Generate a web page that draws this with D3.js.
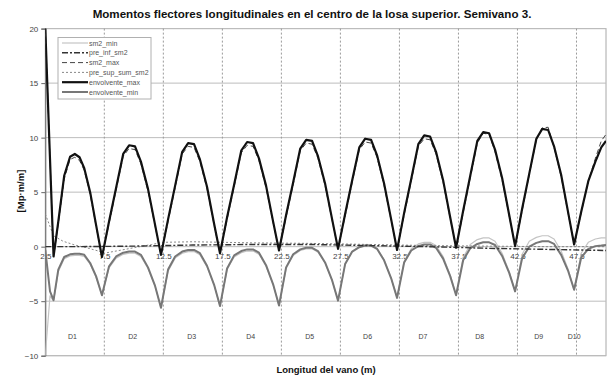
<!DOCTYPE html>
<html>
<head>
<meta charset="utf-8">
<script src="https://cdn.jsdelivr.net/npm/d3@7"></script>
<style>
  body { margin: 0; background: #fff; }
  text { font-family: "Liberation Sans", Arial, sans-serif; }
</style>
</head>
<body>
<script>
// Chart values
const xPts = [2.5, 2.9, 3.2, 3.6, 4.1, 4.6, 5.0, 5.4, 5.8, 6.3, 6.8,
  7.3, 7.9, 8.5, 9.1, 9.6, 10.1, 10.6, 11.2, 11.8,
  12.3, 12.9, 13.5, 14.1, 14.6, 15.1, 15.6, 16.2, 16.8,
  17.3, 17.9, 18.5, 19.1, 19.6, 20.1, 20.6, 21.2, 21.8,
  22.3, 22.9, 23.5, 24.1, 24.6, 25.1, 25.6, 26.2, 26.8,
  27.3, 27.9, 28.5, 29.1, 29.6, 30.1, 30.6, 31.2, 31.8,
  32.3, 32.9, 33.5, 34.1, 34.6, 35.1, 35.6, 36.2, 36.8,
  37.3, 37.9, 38.5, 39.1, 39.6, 40.1, 40.6, 41.2, 41.8,
  42.3, 42.9, 43.5, 44.1, 44.6, 45.1, 45.6, 46.2, 46.8,
  47.3, 47.9, 48.5, 49.1, 49.6, 50.0];

const envolventeMax = [20, 8.0, -0.9, 2.3, 6.5, 8.25, 8.5, 8.2, 7.2, 5.0, 2.0,
  -0.95, 2.3, 5.4, 8.5, 9.3, 9.2, 7.8, 5.3, 2.0,
  -0.75, 2.5, 5.6, 8.7, 9.5, 9.4, 8.0, 5.5, 2.1,
  -0.6, 2.7, 5.7, 8.8, 9.6, 9.5, 8.1, 5.6, 2.3,
  -0.35, 2.9, 5.9, 9.0, 9.8, 9.7, 8.3, 5.8, 2.5,
  -0.2, 3.0, 6.1, 9.1, 9.9, 9.8, 8.4, 5.8, 2.5,
  -0.3, 3.1, 6.2, 9.4, 10.2, 10.1, 8.7, 6.1, 2.7,
  -0.1, 3.3, 6.5, 9.7, 10.5, 10.4, 8.9, 6.3, 2.9,
  0.05, 3.5, 6.7, 9.9, 10.8, 10.7, 9.2, 6.6, 3.1,
  0.2, 3.2, 6.0, 7.8, 9.1, 9.7];

const sm2Max = [20, 8.0, -0.9, 2.1, 6.2, 8.0, 8.2, 7.9, 7.0, 4.8, 1.9,
  -0.95, 2.1, 5.2, 8.3, 9.0, 8.9, 7.6, 5.1, 1.9,
  -0.75, 2.3, 5.4, 8.5, 9.2, 9.1, 7.8, 5.3, 2.0,
  -0.6, 2.5, 5.5, 8.6, 9.3, 9.2, 7.9, 5.4, 2.2,
  -0.35, 2.7, 5.7, 8.8, 9.5, 9.4, 8.1, 5.6, 2.4,
  -0.2, 2.8, 5.9, 8.9, 9.6, 9.5, 8.2, 5.6, 2.4,
  -0.3, 2.9, 6.0, 9.2, 9.9, 9.8, 8.5, 5.9, 2.6,
  -0.1, 3.1, 6.3, 9.5, 10.4, 10.3, 8.7, 6.1, 2.8,
  0.05, 3.3, 6.6, 9.8, 10.9, 10.95, 9.1, 6.4, 3.0,
  0.2, 3.1, 6.0, 8.1, 9.7, 10.3];

const envolventeMin = [-0.3, -4.1, -4.9, -2.1, -0.95, -0.7, -0.65, -0.65, -0.75, -1.5, -2.7,
  -4.45, -1.8, -0.9, -0.55, -0.45, -0.45, -0.75, -1.9, -3.6,
  -5.6, -2.1, -0.9, -0.45, -0.3, -0.3, -0.6, -1.75, -3.5,
  -5.45, -2.0, -0.8, -0.4, -0.25, -0.25, -0.55, -1.7, -3.45,
  -5.4, -1.9, -0.7, -0.25, -0.1, -0.1, -0.4, -1.45, -3.1,
  -4.95, -1.6, -0.45, -0.05, 0.1, 0.1, -0.2, -1.25, -2.9,
  -4.7, -1.45, -0.35, 0.05, 0.2, 0.2, -0.1, -1.1, -2.7,
  -4.45, -1.25, -0.15, 0.25, 0.4, 0.4, 0.15, -0.85, -2.4,
  -4.1, -1.05, 0.0, 0.35, 0.5, 0.5, 0.25, -0.75, -2.25,
  -3.95, -1.0, -0.2, 0.05, 0.1, 0.15];

const sm2Min = [-10, -4.5, -5.0, -2.3, -1.1, -0.85, -0.8, -0.8, -0.9, -1.6, -2.8,
  -4.45, -1.95, -1.05, -0.7, -0.6, -0.6, -0.9, -2.0, -3.6,
  -5.6, -2.25, -1.05, -0.6, -0.45, -0.45, -0.75, -1.85, -3.5,
  -5.45, -2.1, -0.95, -0.55, -0.4, -0.4, -0.7, -1.8, -3.45,
  -5.4, -2.0, -0.8, -0.35, -0.2, -0.2, -0.5, -1.5, -3.1,
  -4.95, -1.6, -0.45, 0.0, 0.15, 0.15, -0.15, -1.2, -2.9,
  -4.7, -1.35, -0.2, 0.25, 0.4, 0.4, 0.1, -0.9, -2.6,
  -4.45, -1.0, 0.2, 0.65, 0.8, 0.8, 0.5, -0.6, -2.3,
  -4.1, -0.7, 0.5, 0.85, 1.0, 1.0, 0.7, -0.4, -2.1,
  -3.95, -0.6, 0.4, 0.7, 0.8, 0.8];

const preInfX = [2.5, 5, 10, 15, 20, 25, 30, 35, 40, 45, 50];
const preInfSm2 = [0.0, 0.0, 0.05, 0.15, 0.2, 0.2, 0.1, 0.0, -0.15, -0.25, -0.35];

const preSupX = [2.5, 3.2, 4, 5, 6, 7, 7.5, 8.5, 10, 11.5, 12.5, 15, 20, 25, 30, 35, 40, 45, 50];
const preSupSumSm2 = [3.0, 1.0, 0.5, 0.15, -0.1, -0.4, -0.6, -0.4, -0.1, 0.2, 0.4, 0.45, 0.35, 0.3, 0.2, 0.1, 0.05, 0.0, 0.0];

const yTicks = [-10, -5, 0, 5, 10, 15, 20];
const xTicks = [2.5, 7.5, 12.5, 17.5, 22.5, 27.5, 32.5, 37.5, 42.5, 47.5];
const spanLabels = ["D1", "D2", "D3", "D4", "D5", "D6", "D7", "D8", "D9", "D10"];
const spanLabelX = [4.8, 9.9, 14.9, 19.9, 24.9, 29.8, 34.5, 39.3, 44.3, 47.3];

const W = 608, H = 376;
const plot = { left: 45.3, right: 606, top: 28.6, bottom: 355.7 };

const x = d3.scaleLinear().domain([2.5, 50]).range([plot.left, plot.right]);
const y = d3.scaleLinear().domain([-10, 20]).range([plot.bottom, plot.top]);

const svg = d3.select("body").append("svg")
  .attr("width", W)
  .attr("height", H);

// plot frame
svg.append("rect")
  .attr("x", plot.left).attr("y", plot.top)
  .attr("width", plot.right - plot.left).attr("height", plot.bottom - plot.top)
  .attr("fill", "#fff").attr("stroke", "#a8a8a8");

// horizontal gridlines
svg.append("g").selectAll("line")
  .data(yTicks)
  .join("line")
  .attr("x1", plot.left).attr("x2", plot.right)
  .attr("y1", d => y(d)).attr("y2", d => y(d))
  .attr("stroke", "#bdbdbd");

// vertical dashed gridlines
svg.append("g").selectAll("line")
  .data(xTicks.slice(1))
  .join("line")
  .attr("x1", d => x(d)).attr("x2", d => x(d))
  .attr("y1", plot.top).attr("y2", plot.bottom)
  .attr("stroke", "#9a9a9a")
  .attr("stroke-dasharray", "2,2");

// y axis
const yAxis = svg.append("g")
  .attr("transform", "translate(" + plot.left + ",0)")
  .call(d3.axisLeft(y).tickValues(yTicks).tickSize(4).tickPadding(3));
yAxis.select(".domain").attr("stroke", "#666");
yAxis.selectAll(".tick line").attr("stroke", "#666");
yAxis.selectAll("text").attr("fill", "#444").style("font-size", "8px");

// x axis labels sit on the zero line
const xAxis = svg.append("g")
  .attr("transform", "translate(0," + y(0) + ")")
  .call(d3.axisBottom(x).tickValues(xTicks).tickSize(0).tickPadding(7).tickFormat(d => d));
xAxis.select(".domain").remove();
xAxis.selectAll("text").attr("fill", "#444").style("font-size", "8px");

// span labels
svg.append("g").selectAll("text")
  .data(spanLabels)
  .join("text")
  .attr("x", (d, i) => x(spanLabelX[i]))
  .attr("y", y(-8.5))
  .attr("text-anchor", "middle")
  .attr("font-size", 7)
  .attr("fill", "#444")
  .text(d => d);

const clip = svg.append("clipPath").attr("id", "clip")
  .append("rect")
  .attr("x", plot.left).attr("y", plot.top - 1)
  .attr("width", plot.right - plot.left).attr("height", plot.bottom - plot.top + 1);

const series = [
  { name: "sm2_min", xs: xPts, ys: sm2Min, color: "#c4c4c4", width: 1.2, dash: null },
  { name: "pre_inf_sm2", xs: preInfX, ys: preInfSm2, color: "#333", width: 1.4, dash: "6,2,2,2" },
  { name: "sm2_max", xs: xPts, ys: sm2Max, color: "#444", width: 1, dash: "5,3" },
  { name: "pre_sup_sum_sm2", xs: preSupX, ys: preSupSumSm2, color: "#888", width: 1, dash: "2,2" },
  { name: "envolvente_max", xs: xPts, ys: envolventeMax, color: "#111", width: 2.2, dash: null },
  { name: "envolvente_min", xs: xPts, ys: envolventeMin, color: "#777", width: 2, dash: null }
];

const line = d3.line()
  .x(d => x(d[0]))
  .y(d => y(d[1]));

const drawOrder = ["sm2_min", "sm2_max", "pre_sup_sum_sm2", "envolvente_min", "pre_inf_sm2", "envolvente_max"];
const lines = svg.append("g").attr("clip-path", "url(#clip)");
drawOrder.forEach(n => {
  const s = series.find(d => d.name === n);
  lines.append("path")
    .datum(d3.zip(s.xs, s.ys))
    .attr("fill", "none")
    .attr("stroke", s.color)
    .attr("stroke-width", s.width)
    .attr("stroke-dasharray", s.dash)
    .attr("stroke-linejoin", "round")
    .attr("d", line);
});

// legend
const legend = svg.append("g");
legend.append("rect")
  .attr("x", 58).attr("y", 37.5)
  .attr("width", 93).attr("height", 61.5)
  .attr("fill", "#fff").attr("stroke", "#b0b0b0");
series.forEach((s, i) => {
  const ly = 43 + i * 9.8;
  legend.append("line")
    .attr("x1", 62).attr("x2", 88)
    .attr("y1", ly).attr("y2", ly)
    .attr("stroke", s.color)
    .attr("stroke-width", s.width)
    .attr("stroke-dasharray", s.dash);
  legend.append("text")
    .attr("x", 89).attr("y", ly + 2.5)
    .attr("font-size", 7)
    .attr("fill", "#555")
    .text(s.name);
});

// titles
svg.append("text")
  .attr("x", 312).attr("y", 18)
  .attr("text-anchor", "middle")
  .attr("font-size", 11.6)
  .attr("font-weight", "bold")
  .attr("fill", "#111")
  .text("Momentos flectores longitudinales en el centro de la losa superior. Semivano 3.");

svg.append("text")
  .attr("x", 326).attr("y", 373)
  .attr("text-anchor", "middle")
  .attr("font-size", 9.5)
  .attr("font-weight", "bold")
  .attr("fill", "#111")
  .text("Longitud del vano (m)");

svg.append("text")
  .attr("transform", "translate(24,191) rotate(-90)")
  .attr("text-anchor", "middle")
  .attr("font-size", 9.5)
  .attr("font-weight", "bold")
  .attr("fill", "#111")
  .text("[Mp·m/m]");
</script>
</body>
</html>
